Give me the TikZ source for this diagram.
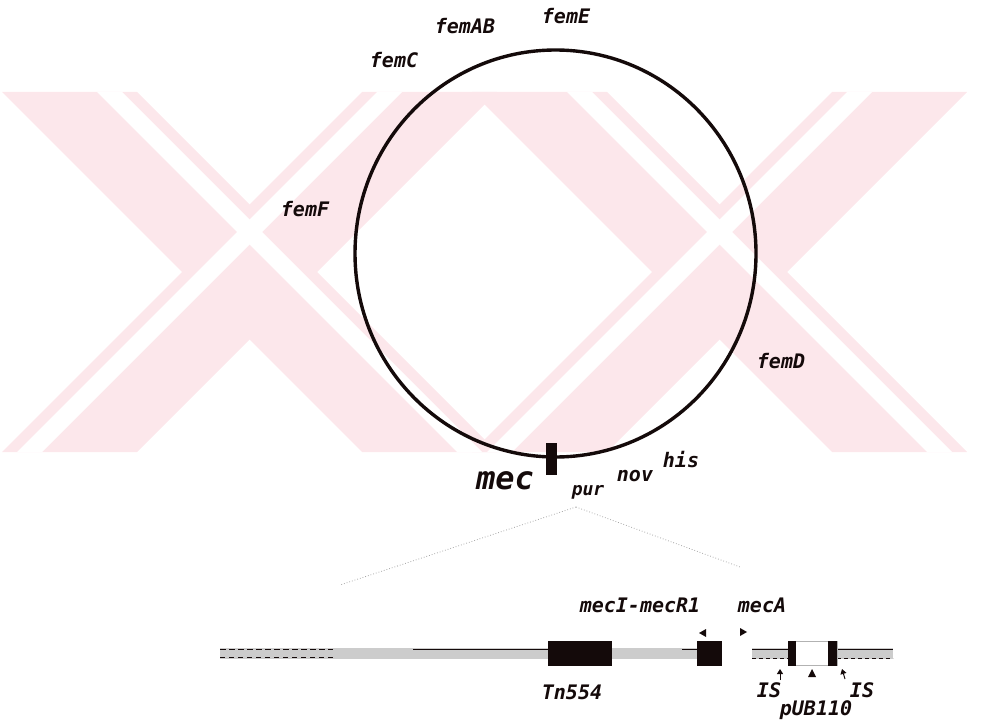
\documentclass[tikz,border=0pt]{standalone}
\usepackage{fontspec}
\newfontfamily\lab{DejaVu Sans Mono Bold Oblique}
\usetikzlibrary{arrows.meta,shapes.geometric}
\definecolor{wm}{RGB}{252,231,235}
\definecolor{ink}{RGB}{20,10,10}
\begin{document}
\begin{tikzpicture}[x=1pt,y=-1pt,
  lbl/.style={font=\lab\fontsize{20}{20}\selectfont, inner sep=0pt, text=ink},
  smalllbl/.style={font=\lab\fontsize{18}{18}\selectfont, inner sep=0pt, text=ink},
  biglbl/.style={font=\lab\fontsize{32}{32}\selectfont, inner sep=0pt, text=ink},
  gene/.style={fill=ink, draw=none, inner sep=0pt},
  band/.style={fill=gray!40, draw=none},
  expand/.style={gray!70, dotted, line width=0.8pt},
  tip/.style={fill=ink, draw=none}]
\useasboundingbox (0,0) rectangle (1008,727);
% watermark
\begin{scope}
  \fill[wm] (2,92) -- (137,92) -- (497,452) -- (362,452) -- cycle;
  \fill[wm] (362,92) -- (497,92) -- (137,452) -- (2,452) -- cycle;
  \fill[wm] (472,92) -- (607,92) -- (967,452) -- (832,452) -- cycle;
  \fill[wm] (832,92) -- (967,92) -- (607,452) -- (472,452) -- cycle;
  \fill[white] (97,92) -- (122,92) -- (482,452) -- (457,452) -- cycle;
  \fill[white] (377,92) -- (402,92) -- (42,452) -- (17,452) -- cycle;
  \fill[white] (567,92) -- (592,92) -- (952,452) -- (927,452) -- cycle;
  \fill[white] (847,92) -- (872,92) -- (512,452) -- (487,452) -- cycle;
\end{scope}
% chromosome
\node[ellipse, draw=ink, line width=3.4pt, minimum width=401pt, minimum height=407pt, inner sep=0pt] (chrom) at (555.5,253.5) {};
\node[gene, minimum width=11pt, minimum height=32pt] (mecbar) at (551.5,459) {};
% labels on circle
\node[lbl] (femE) at (566,16) {femE};
\node[lbl] (femAB) at (465,26) {femAB};
\node[lbl] (femC) at (394,60) {femC};
\node[lbl] (femF) at (305,209) {femF};
\node[lbl] (femD) at (781,361) {femD};
\node[biglbl] (mec) at (505,481) {mec};
\node[smalllbl] (pur) at (588,492) {pur};
\node[lbl] (nov) at (635,476) {nov};
\node[lbl] (his) at (681,460) {his};
% expansion lines
\coordinate (ex) at (576,507);
\coordinate (exl) at (340,585);
\coordinate (exr) at (740,567);
\draw[expand] (ex) -- (exl);
\draw[expand] (ex) -- (exr);
% linear map backbone
\fill[band] (220,648) rectangle (548,659);
\fill[band] (612,648) rectangle (697,659);
\fill[band] (752,648) rectangle (788,659);
\fill[band] (837,648) rectangle (893,659);
\draw[ink, line width=1pt, dash pattern=on 6pt off 3pt] (220,649) -- (333,649);
\draw[ink, line width=0.8pt, dash pattern=on 5pt off 4pt] (220,657) -- (333,657);
\draw[ink, line width=1pt] (413,649) -- (548,649);
\draw[ink, line width=1pt] (682,649) -- (697,649);
\draw[ink, line width=1pt] (752,649) -- (788,649);
\draw[ink, line width=0.8pt, dash pattern=on 4pt off 3pt] (752,658) -- (788,658);
\draw[ink, line width=1pt] (837,649) -- (893,649);
\draw[ink, line width=0.8pt, dash pattern=on 4pt off 3pt] (837,658) -- (893,658);
% genes on the linear map
\node[gene, minimum width=64pt, minimum height=25pt] (tn) at (580,653.5) {};
\node[gene, minimum width=25pt, minimum height=25pt] (meci) at (709.5,653.5) {};
\node[draw=gray!60, fill=white, line width=0.8pt, minimum width=49pt, minimum height=24pt, inner sep=0pt] (pub) at (812.5,653.5) {};
\fill[ink] (pub.north west) rectangle ([xshift=8pt]pub.south west);
\fill[ink] ([xshift=-9pt]pub.north east) rectangle (pub.south east);
% direction marks
\coordinate (arL) at (703,633);
\coordinate (arR) at (743,632);
\fill[tip] (arL) ++(-4,0) -- ++(7,-4) -- ++(0,8) -- cycle;
\fill[tip] (arR) ++(4,0) -- ++(-7,-4) -- ++(0,8) -- cycle;
\coordinate (isL) at (780,669);
\coordinate (isLb) at (780,680);
\coordinate (pm) at (812,669);
\coordinate (isR) at (842,669);
\coordinate (isRb) at (845,679);
\draw[ink, line width=1pt, -{Triangle[length=5pt,width=6pt]}] (isLb) -- (isL);
\fill[tip] (pm) -- ++(4,8) -- ++(-8,0) -- cycle;
\draw[ink, line width=1pt, -{Triangle[length=5pt,width=6pt]}] (isRb) -- (isR);
% linear map labels
\node[lbl] (mecIR) at (640,605) {mecI-mecR1};
\node[lbl] (mecA) at (762,605) {mecA};
\node[lbl] (tnlbl) at (572,692) {Tn554};
\node[lbl] (isl) at (769,690) {IS};
\node[lbl] (isr) at (862,690) {IS};
\node[lbl] (publ) at (816,710) {pUB110};
\end{tikzpicture}
\end{document}
